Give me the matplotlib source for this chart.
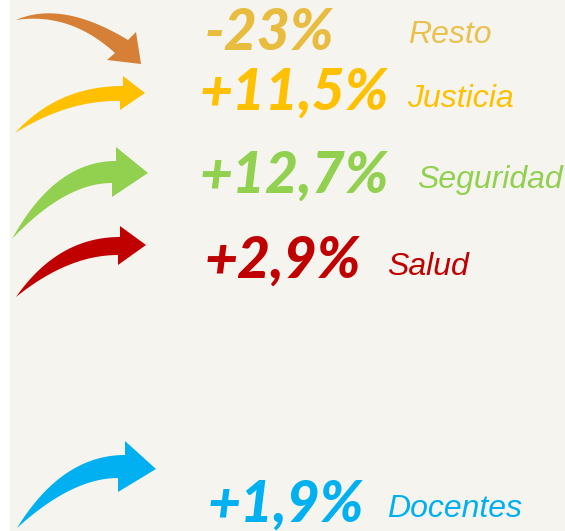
import matplotlib
matplotlib.use("Agg")
import matplotlib.pyplot as plt
import numpy as np
from matplotlib.patches import Polygon, Rectangle

# datos
categorias = ["Resto", "Justicia", "Seguridad", "Salud", "Docentes"]
variacion = [-23, 11.5, 12.7, 2.9, 1.9]
col_num = ["#E8BC3F", "#FFC000", "#92D050", "#C00000", "#00B0F0"]
col_txt = ["#EAC04E", "#FFC000", "#92D050", "#C00000", "#00B0F0"]
col_flecha = ["#D58036", "#FFC000", "#92D050", "#C00000", "#00B0F0"]

# posiciones (pixeles, y hacia abajo)
pos_num = [(205, 50), (200, 110), (200, 193), (205, 278), (208, 522)]
pos_txt = [(408, 43), (407, 107), (417, 188), (387, 275), (387, 517)]

# flechas: cola, ctrl sup, fin sup, ctrl inf, fin inf, punta sup, punta, punta inf
flechas = [
    [(16, 20), (62, 0), (128, 40), (70, 12), (115, 53), (136, 32), (141, 64), (107, 60)],
    [(15, 133), (58, 86), (123, 86), (68, 100), (120, 101), (123, 76), (145, 93), (120, 110)],
    [(12, 239), (55, 161), (116, 161), (65, 183), (112, 183), (116, 147), (148, 173), (112, 197)],
    [(16, 297), (58, 237), (120, 237), (68, 255), (118, 255), (120, 226), (146, 245), (118, 265)],
    [(17, 528), (62, 455), (125, 455), (72, 478), (118, 478), (125, 441), (156, 469), (118, 492)],
]


def bezier(p0, c, p2, n=40):
    t = np.linspace(0, 1, n)[:, None]
    p0, c, p2 = np.array(p0), np.array(c), np.array(p2)
    return (1 - t) ** 2 * p0 + 2 * t * (1 - t) * c + t ** 2 * p2


W, H = 565, 531
fig = plt.figure(figsize=(W / 100, H / 100), dpi=100)
fig.patch.set_facecolor("white")
ax = fig.add_axes([0, 0, 1, 1])
ax.set_xlim(0, W)
ax.set_ylim(H, 0)
ax.axis("off")
ax.add_patch(Rectangle((10, 0), W - 10 + 5, H + 5, color="#F5F4EF", zorder=0))

for f, c in zip(flechas, col_flecha):
    cola, cs, fs, ci, fi, ps, punta, pi = f
    arriba = bezier(cola, cs, fs)
    abajo = bezier(cola, ci, fi)[::-1]
    pts = np.vstack([arriba, [ps, punta, pi], abajo])
    ax.add_patch(Polygon(pts, closed=True, color=c, lw=0, zorder=2))

for v, cat, cn, ct, pn, pt in zip(variacion, categorias, col_num, col_txt, pos_num, pos_txt):
    s = ("%+.1f" % v).replace(".", ",") if v != int(v) else "%+d" % v
    s = s + "%"
    ax.text(pn[0], pn[1], s, color=cn, fontsize=41, fontweight="black", style="italic",
            family="Lato", ha="left", va="baseline", zorder=3)
    ax.text(pt[0], pt[1], cat, color=ct, fontsize=23, style="italic",
            family="Liberation Sans", ha="left", va="baseline", zorder=3)

fig.savefig("out.png", dpi=100, facecolor=fig.get_facecolor())
